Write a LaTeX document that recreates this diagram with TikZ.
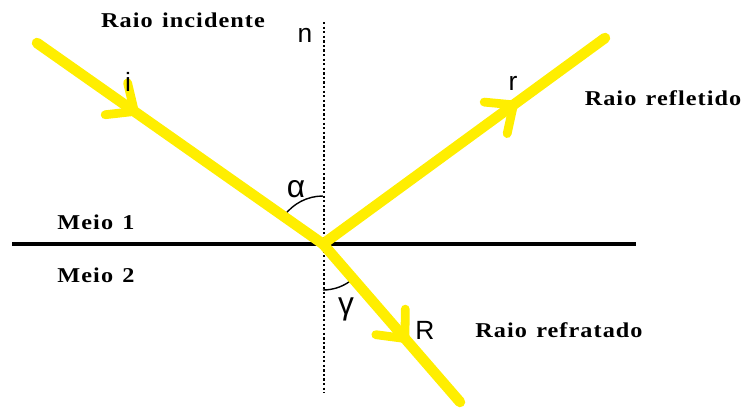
\documentclass[tikz,border=0pt]{standalone}
\usepackage{fontspec}
\setmainfont{Liberation Serif}
\newfontfamily\titlefont[FakeStretch=1.15, LetterSpace=5, WordSpace=1.3]{Liberation Serif}
\newfontfamily\labelfont{Liberation Sans}
\usepackage{tikz}
\usetikzlibrary{arrows.meta, decorations.markings, positioning}
\definecolor{raio}{RGB}{255,238,0}

\tikzset{
  raiostyle/.style={line width=6pt, line cap=round, color=raio},
  seta/.style={postaction={decorate}, decoration={markings,
      mark=at position #1 with {\arrow[raio]{Straight Barb[length=0.44cm, width=0.78cm, line width=5pt, round]}}}},
  titulo/.style={font=\titlefont\bfseries\fontsize{12}{14}\selectfont},
  rotulo/.style={font=\labelfont\fontsize{15}{17}\selectfont},
  grego/.style={font=\labelfont\fontsize{18}{20}\selectfont}
}

\begin{document}
\begin{tikzpicture}
    \useasboundingbox (0,0) rectangle (14.94,8.16);

    % pontos principais
    \coordinate (O) at (6.46,3.28);      % ponto de incidencia
    \coordinate (I) at (0.74,7.30);      % inicio do raio incidente
    \coordinate (Rf) at (12.10,7.40);    % fim do raio refletido
    \coordinate (Rr) at (9.20,0.12);     % fim do raio refratado
    \coordinate (Ea) at (0.24,3.28);     % superficie, esquerda
    \coordinate (Eb) at (12.72,3.28);    % superficie, direita
    \coordinate (Na) at (6.48,7.72);     % normal, topo
    \coordinate (Nb) at (6.48,0.30);     % normal, base

    % superficie e normal
    \draw[line width=2.3pt] (Ea) -- (Eb);
    \draw[line width=1.4pt, dash pattern=on 1.3pt off 1.3pt] (Na) -- (Nb);

    % angulos
    \draw[line width=0.8pt] ([shift={(90:0.96)}]O) arc[start angle=90, end angle=145, radius=0.96];
    \draw[line width=0.8pt] ([shift={(270:0.92)}]O) arc[start angle=270, end angle=311, radius=0.92];

    % raios
    \draw[raiostyle, seta=0.353] (I) -- (O);
    \draw[raiostyle, seta=0.688] (O) -- (Rf);
    \draw[raiostyle, seta=0.62] (O) -- (Rr);

    % textos
    \node[titulo] (tInc) at (3.66,7.76) {Raio incidente};
    \node[titulo] (tRef) at (13.26,6.20) {Raio refletido};
    \node[titulo] (tRefr) at (11.18,1.56) {Raio refratado};
    \node[titulo] (m1) at (1.92,3.72) {Meio 1};
    \node[titulo] (m2) at (1.92,2.66) {Meio 2};

    \node[rotulo] (n) at (6.10,7.46) {n};
    \node[rotulo] (i) at (2.56,6.52) {i};
    \node[rotulo] (r) at (10.26,6.50) {r};
    \node[rotulo] (R) at (8.50,1.56) {R};
    \node[grego] (alfa) at (5.92,4.38) {α};
    \node[grego] (gama) at (6.92,1.98) {γ};
\end{tikzpicture}
\end{document}
